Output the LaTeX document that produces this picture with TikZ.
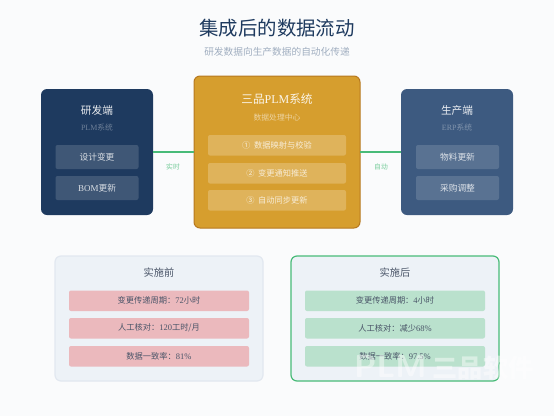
\documentclass[tikz,border=0pt]{standalone}
\usepackage{fontspec}
\setmainfont{Liberation Serif}
\newfontfamily\cjk{Noto Sans CJK SC}[Scale=0.97]
\usetikzlibrary{calc}
\definecolor{bgc}{HTML}{FAFBFC}
\definecolor{navy}{HTML}{1E3A5F}
\definecolor{blue2}{HTML}{3D5A80}
\definecolor{gold}{HTML}{D69E2E}
\definecolor{goldd}{HTML}{B7791F}
\definecolor{greenc}{HTML}{48BB78}
\definecolor{panel}{HTML}{EDF2F7}
\definecolor{panelb}{HTML}{E2E8F0}
\definecolor{redi}{HTML}{EBB9BD}
\definecolor{greeni}{HTML}{BAE1CD}
\definecolor{greyt}{HTML}{4A5568}
\definecolor{greys}{HTML}{A0AEC0}
\tikzset{
  base/.style={inner sep=0pt,outer sep=0pt,anchor=north west,align=center},
  sysbox/.style={base,rounded corners=6pt,draw=none},
  chip/.style={base,rounded corners=2pt,fill=white,fill opacity=.15,text opacity=.8,text=white,font=\fontsize{9}{10}\selectfont\cjk},
  gchip/.style={base,rounded corners=2pt,fill=white,fill opacity=.22,text opacity=.75,text=white,font=\fontsize{8.5}{10}\selectfont\cjk},
  metric/.style={base,rounded corners=2pt,text=greyt,font=\fontsize{8.5}{10}\selectfont\cjk,minimum width=180pt,minimum height=20.5pt},
  paneln/.style={base,rounded corners=6pt,fill=panel,line width=1.2pt,minimum width=208pt,minimum height=125pt},
  link/.style={draw=greenc,line width=2.4pt},
  lbl/.style={inner sep=0pt,text=greenc!75,font=\fontsize{7}{8}\selectfont\cjk}
}
\begin{document}
\begin{tikzpicture}[x=1pt,y=-1pt]
\useasboundingbox (0,0) rectangle (554,416);
\fill[bgc] (0,0) rectangle (554,416);
\node[text=navy,font=\fontsize{20}{24}\selectfont\cjk,inner sep=0pt] (title) at (277,28) {集成后的数据流动};
\node[text=greys,font=\fontsize{10}{12}\selectfont\cjk,inner sep=0pt] (sub) at (277,52) {研发数据向生产数据的自动化传递};
% boxes
\node[sysbox,fill=navy,minimum width=112pt,minimum height=126pt] (rd) at (41,89) {};
\node[sysbox,fill=gold,draw=goldd,line width=1pt,minimum width=166pt,minimum height=152pt] (plm) at (194,76) {};
\node[sysbox,fill=blue2,minimum width=112pt,minimum height=126pt] (prod) at (401,89) {};
% connectors
\coordinate (ly) at (0,152);
\draw[link] (rd.east |- ly) -- (plm.west |- ly);
\draw[link] (plm.east |- ly) -- (prod.west |- ly);
\node[lbl] (l1) at (173,167) {实时};
\node[lbl] (l2) at (381,167) {自动};
% left
\node[text=white,text opacity=.9,font=\fontsize{11}{13}\selectfont\cjk,inner sep=0pt] (rdt) at (97,110) {研发端};
\node[text=white,text opacity=.35,font=\fontsize{8}{10}\selectfont,inner sep=0pt] (rds) at (97,128) {PLM{\cjk 系统}};
\node[chip,minimum width=83pt,minimum height=24pt] (a1) at (55.5,145) {设计变更};
\node[chip,minimum width=83pt,minimum height=24pt] (a2) at (55.5,176) {{\rmfamily BOM}更新};
% centre
\node[text=white,text opacity=.9,font=\fontsize{12}{15}\selectfont,inner sep=0pt] (plmt) at (277,99) {{\cjk 三品}PLM{\cjk 系统}};
\node[text=white,text opacity=.55,font=\fontsize{8}{10}\selectfont\cjk,inner sep=0pt] (plms) at (277,118) {数据处理中心};
\node[gchip,minimum width=138pt,minimum height=20.5pt] (b1) at (208,135) {① \ 数据映射与校验};
\node[gchip,minimum width=138pt,minimum height=20.5pt] (b2) at (208,163) {② \ 变更通知推送};
\node[gchip,minimum width=138pt,minimum height=20.5pt] (b3) at (208,190) {③ \ 自动同步更新};
% right
\node[text=white,text opacity=.9,font=\fontsize{11}{13}\selectfont\cjk,inner sep=0pt] (prodt) at (457,110) {生产端};
\node[text=white,text opacity=.35,font=\fontsize{8}{10}\selectfont,inner sep=0pt] (prods) at (457,128) {ERP{\cjk 系统}};
\node[chip,minimum width=83pt,minimum height=24pt] (c1) at (416,145) {物料更新};
\node[chip,minimum width=83pt,minimum height=24pt] (c2) at (416,176) {采购调整};
% before
\node[paneln,draw=panelb] (pre) at (55,256) {};
\node[text=greyt,font=\fontsize{10.5}{13}\selectfont\cjk,inner sep=0pt] (pret) at (159,273) {实施前};
\node[metric,fill=redi] (p1) at (69,290.5) {变更传递周期：{\rmfamily 72}小时};
\node[metric,fill=redi] (p2) at (69,318) {人工核对：{\rmfamily 120}工时/月};
\node[metric,fill=redi] (p3) at (69,346) {数据一致率：{\rmfamily 81\%}};
% after
\node[paneln,draw=greenc] (post) at (291,256) {};
\node[text=greyt,font=\fontsize{10.5}{13}\selectfont\cjk,inner sep=0pt] (postt) at (395,273) {实施后};
\node[metric,fill=greeni] (q1) at (305,290.5) {变更传递周期：{\rmfamily 4}小时};
\node[metric,fill=greeni] (q2) at (305,318) {人工核对：减少{\rmfamily 68\%}};
\node[metric,fill=greeni] (q3) at (305,346) {数据一致率：{\rmfamily 97.5\%}};
% watermark
\node[text=white,text opacity=.45,font=\fontsize{32}{36}\selectfont\sffamily\bfseries,inner sep=0pt,anchor=base west] (wm) at (354,377) {PLM\hspace{6pt}{\cjk\fontsize{26}{30}\selectfont 三品软件}};
\end{tikzpicture}
\end{document}
